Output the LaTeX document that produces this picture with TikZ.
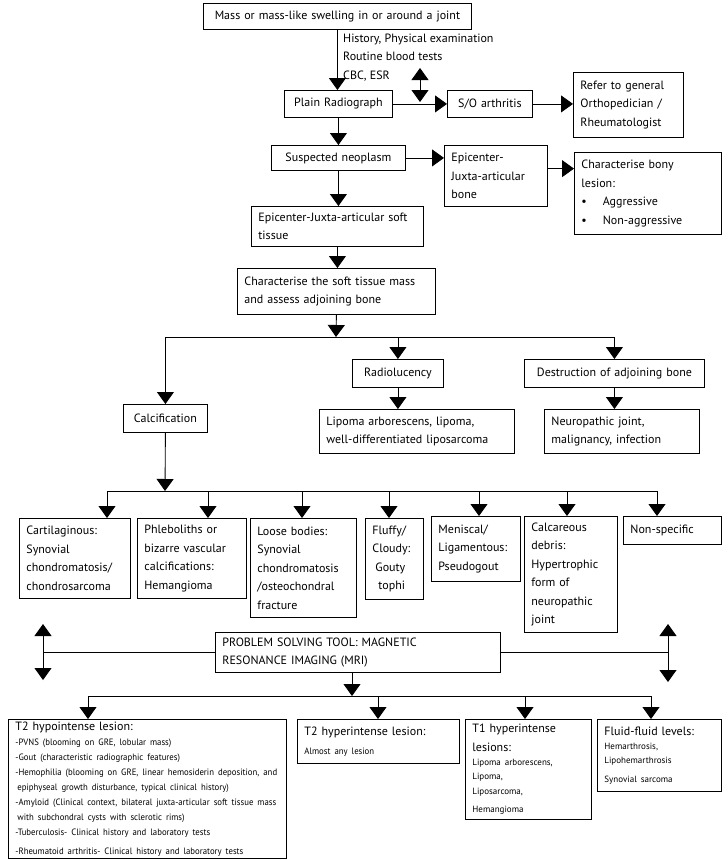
\documentclass[tikz,border=0pt]{standalone}
\usepackage{fontspec}
\setmainfont{PT Sans}
\newfontfamily\narrowsf[FakeStretch=0.95]{PT Sans}
\usetikzlibrary{arrows.meta}
\newcommand{\mainsz}{\fontsize{12}{18.5}\selectfont}
\newcommand{\smallsz}{\narrowsf\fontsize{9.2}{15}\selectfont}
\newcommand{\listsz}{\fontsize{9}{14.3}\selectfont}
\begin{document}
\begin{tikzpicture}[x=1pt,y=-1pt,
  every node/.style={font=\mainsz},
  lw/.style={line width=0.85pt},
  bx/.code 2 args={\pgfmathsetmacro\bxtw{#1-14}\tikzset{draw, lw, anchor=north west, inner xsep=7pt, inner ysep=2pt, align=left, minimum width=#1pt, minimum height=#2pt, text width=\bxtw pt}},
  arr/.style={lw, -{Triangle[width=17pt,length=12pt]}},
  dar/.style={lw, {Triangle[width=17pt,length=12pt]}-{Triangle[width=17pt,length=12pt]}}
]
\path[use as bounding box] (0,0) rectangle (728,860);

% top part
\node[bx={268}{26}, align=center] (top) at (203,3) {Mass or mass-like swelling in or around a joint};
\node[anchor=west, inner sep=0pt, align=left] (hist) at (343,57.5) {History, Physical examination\\Routine blood tests\\CBC, ESR};
\node[bx={108}{27}, align=center] (plain) at (284,90) {Plain Radiograph};
\node[bx={85}{27}, align=center] (so) at (447,90) {S/O arthritis};
\node[bx={110}{65}] (refer) at (573,72) {Refer to general\\Orthopedician /\\Rheumatologist};
\node[bx={134}{25}, align=center] (susp) at (271,145) {Suspected neoplasm};
\node[bx={103}{61}] (bone) at (444,145) {Epicenter-\\Juxta-articular\\bone};
\node[bx={147}{82}] (bony) at (574,152) {Characterise bony\\lesion:\\\textbullet\hspace{16pt}Aggressive\\\textbullet\hspace{16pt}Non-aggressive};
\node[bx={172}{40}] (soft) at (251,206) {Epicenter-Juxta-articular soft\\tissue};
\node[bx={198}{46}] (charsoft) at (237,268) {Characterise the soft tissue mass\\and assess adjoining bone};

% second level
\node[bx={91}{28}, align=center] (radio) at (352,359) {Radiolucency};
\node[bx={180}{28}, align=center] (destr) at (524,359) {Destruction of adjoining bone};
\node[bx={84}{28}, align=center] (calc) at (123,404) {Calcification};
\node[bx={195}{44}] (lipoma) at (319,409) {Lipoma arborescens, lipoma,\\well-differentiated liposarcoma};
\node[bx={155}{44}] (neuro) at (544,409) {Neuropathic joint,\\malignancy, infection};

% calcification types
\node[bx={111}{80}] (cart) at (19,518) {Cartilaginous:\\Synovial\\chondromatosis/\\chondrosarcoma};
\node[bx={109}{80}] (phleb) at (137,518) {Phleboliths or\\bizarre vascular\\calcifications:\\Hemangioma};
\node[bx={106}{99}] (loose) at (250,518) {Loose bodies:\\Synovial\\chondromatosis\\/osteochondral\\fracture};
\node[bx={58}{81}] (fluffy) at (365,518) {Fluffy/\\Cloudy:\\\hspace*{3pt}Gouty\\\hspace*{6pt}tophi};
\node[bx={89}{65}] (menis) at (431,516) {Meniscal/\\Ligamentous:\\Pseudogout};
\node[bx={93}{116}] (calca) at (524,516) {Calcareous\\debris:\\Hypertrophic\\form of\\neuropathic\\joint};
\node[bx={98}{28}] (nonsp) at (623,516) {Non-specific};

% MRI
\node[bx={285}{40}] (mri) at (215,632) {PROBLEM SOLVING TOOL: MAGNETIC\\RESONANCE IMAGING (MRI)};

% MRI findings
\node[bx={278}{139}] (t2hypo) at (8,719) {T2 hypointense lesion:\par\smallsz
\mbox{-PVNS (blooming on GRE, lobular mass)}\\
\mbox{-Gout (characteristic radiographic features)}\\
\mbox{-Hemophilia (blooming on GRE, linear hemosiderin deposition, and}\\
\mbox{\hspace*{2pt}epiphyseal growth disturbance, typical clinical history)}\\
\mbox{-Amyloid (Clinical context, bilateral juxta-articular soft tissue mass}\\
\mbox{\hspace*{2pt}with subchondral cysts with sclerotic rims)}\\
\mbox{-Tuberculosis- Clinical history and laboratory tests}\\
\mbox{-Rheumatoid arthritis- Clinical history and laboratory tests}};
\node[bx={162}{44}] (t2hyper) at (297,719) {T2 hyperintense lesion:\par\smallsz Almost any lesion};
\node[bx={126}{100}] (t1hyper) at (465,719) {T1 hyperintense\\lesions:\par\listsz Lipoma arborescens,\\Lipoma,\\Liposarcoma,\\Hemangioma};
\node[bx={124}{72}] (fluid) at (597,719) {Fluid-fluid levels:\par\listsz Hemarthrosis,\\Lipohemarthrosis\\Synovial sarcoma};

% connectors top
\draw[arr] (top.south) -- (top.south |- plain.north);
\coordinate (d1a) at (420,68);
\coordinate (d1b) at (420,102);
\draw[dar] (d1a) -- (d1b);
\draw[arr] (plain.east) -- (so.west);
\draw[arr] (so.east) -- (so.east -| refer.west);
\draw[arr] (plain.south) -- (plain.south |- susp.north);
\draw[arr] (susp.east) -- (susp.east -| bone.west);
\draw[arr] (bone.8) -- (bone.8 -| bony.west);
\draw[arr] (susp.south) -- (susp.south |- soft.north);
\draw[arr] (soft.south) -- (soft.south |- charsoft.north);

% bus 1
\coordinate (j1) at (336,337);
\draw[arr] (charsoft.south) -- (j1);
\draw[lw] (calc.north |- j1) -- (destr.north |- j1);
\draw[arr] (calc.north |- j1) -- (calc.north);
\draw[arr] (radio.north |- j1) -- (radio.north);
\draw[arr] (destr.north |- j1) -- (destr.north);
\draw[arr] (radio.south) -- (radio.south |- lipoma.north);
\draw[arr] (destr.south) -- (destr.south |- neuro.north);

% bus 2
\coordinate (j2) at (165,491);
\draw[arr] (calc.south) -- (j2);
\coordinate (b1) at (107,491);
\coordinate (b2) at (208,491);
\coordinate (b3) at (302,491);
\coordinate (b4) at (389,491);
\coordinate (b5) at (479,491);
\coordinate (b6) at (567,491);
\coordinate (b7) at (657,491);
\draw[lw] (b1) -- (b7);
\draw[arr] (b1) -- (b1 |- cart.north);
\draw[arr] (b2) -- (b2 |- phleb.north);
\draw[arr] (b3) -- (b3 |- loose.north);
\draw[arr] (b4) -- (b4 |- fluffy.north);
\draw[arr] (b5) -- (b5 |- menis.north);
\draw[arr] (b6) -- (b6 |- calca.north);
\draw[arr] (b7) -- (b7 |- nonsp.north);

% MRI side arrows
\coordinate (mlu) at (43,624);
\coordinate (mld) at (43,680);
\coordinate (mru) at (668,624);
\coordinate (mrd) at (668,682);
\draw[lw] (mri.west) -- (mri.west -| mlu);
\draw[lw] (mri.east) -- (mri.east -| mru);
\draw[dar] (mlu) -- (mld);
\draw[dar] (mru) -- (mrd);

% bus 3
\coordinate (j3) at (352,696);
\draw[arr] (j3 |- mri.south) -- (j3);
\coordinate (c1) at (88,696);
\coordinate (c2) at (378,696);
\coordinate (c3) at (525,696);
\coordinate (c4) at (651,696);
\draw[lw] (c1) -- (c4);
\draw[arr] (c1) -- (c1 |- t2hypo.north);
\draw[arr] (c2) -- (c2 |- t2hyper.north);
\draw[arr] (c3) -- (c3 |- t1hyper.north);
\draw[arr] (c4) -- (c4 |- fluid.north);
\end{tikzpicture}
\end{document}
